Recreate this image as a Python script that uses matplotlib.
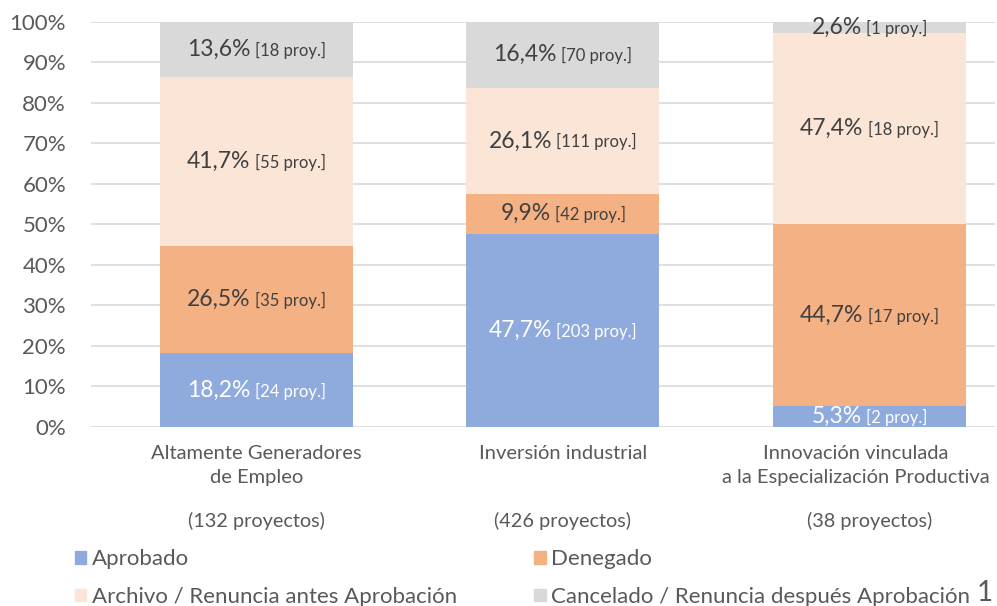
import numpy as np
import matplotlib.pyplot as plt
from matplotlib.offsetbox import TextArea, HPacker, AnnotationBbox
from matplotlib.patches import Patch

plt.rcParams['font.family'] = ['Lato', 'DejaVu Sans']

categorias = ['Altamente Generadores\nde Empleo', 'Inversión industrial',
              'Innovación vinculada\na la Especialización Productiva']
totales = ['(132 proyectos)', '(426 proyectos)', '(38 proyectos)']
series = ['Aprobado', 'Denegado', 'Archivo / Renuncia antes Aprobación',
          'Cancelado / Renuncia después Aprobación']
# porcentajes por serie (una lista por categoria)
aprobado = [18.2, 47.7, 5.3]
denegado = [26.5, 9.9, 44.7]
archivo = [41.7, 26.1, 47.4]
cancelado = [13.6, 16.4, 2.6]
# numero de proyectos
n_aprobado = [24, 203, 2]
n_denegado = [35, 42, 17]
n_archivo = [55, 111, 18]
n_cancelado = [18, 70, 1]

valores = [aprobado, denegado, archivo, cancelado]
proyectos = [n_aprobado, n_denegado, n_archivo, n_cancelado]
colores = ['#8FAADC', '#F4B183', '#FBE5D6', '#D9D9D9']
color_texto = ['white', '#404040', '#404040', '#404040']
gris = '#595959'

fig = plt.figure(figsize=(9.97, 6.06), dpi=100)
ax = fig.add_axes([0.0913, 0.2954, 0.9067, 0.6683])

x = np.arange(len(categorias))
base = np.zeros(len(categorias))
for vals, ns, col, tc in zip(valores, proyectos, colores, color_texto):
    vals = np.array(vals)
    ax.bar(x, vals, 0.63, bottom=base, color=col, zorder=2)
    for xi, v, b, n in zip(x, vals, base, ns):
        pct = TextArea(f'{v:.1f}%'.replace('.', ','),
                       textprops=dict(color=tc, fontsize=16.5))
        pr = TextArea(f'[{n} proy.]', textprops=dict(color=tc, fontsize=12))
        box = HPacker(children=[pct, pr], align='baseline', pad=0, sep=3)
        ab = AnnotationBbox(box, (xi, b + v / 2), frameon=False,
                            box_alignment=(0.5, 0.5), zorder=3)
        ax.add_artist(ab)
    base += vals

ax.set_ylim(0, 100)
ax.set_xlim(-0.54, 2.41)
ax.set_yticks(np.arange(0, 101, 10))
ax.set_yticklabels([f'{t}%' for t in range(0, 101, 10)])
ax.yaxis.grid(True, color='#D9D9D9', lw=1.2, zorder=0)
ax.set_xticks(x)
ax.set_xticklabels([])
ax.tick_params(axis='both', length=0, colors=gris)
ax.tick_params(axis='y', pad=18, labelsize=16)
for s in ax.spines.values():
    s.set_visible(False)

# etiquetas de categoria (la ultima desplazada a la izquierda para caber)
ajuste = [0, 0, -0.045]
trans = ax.get_xaxis_transform()
for xi, c, d, t in zip(x, categorias, ajuste, totales):
    ax.text(xi + d, -0.045, c, transform=trans, ha='center', va='top',
            color=gris, fontsize=14.5, linespacing=1.48)
    ax.text(xi, -0.232, t, transform=trans, ha='center', va='center',
            color=gris, fontsize=14.3)

# orden de columnas: matplotlib llena por columnas
orden = [0, 2, 1, 3]
handles = [Patch(color=colores[i]) for i in orden]
etiquetas = [series[i] for i in orden]
fig.legend(handles, etiquetas, loc='center left', bbox_to_anchor=(0.064, 0.046),
           ncol=2, frameon=False, fontsize=16, labelcolor=gris,
           handlelength=0.5, handleheight=0.5, handletextpad=0.25,
           columnspacing=3.5, labelspacing=0.8, borderpad=0)

fig.text(0.996, 0.0, '1', fontsize=20, color=gris, ha='right', va='bottom')

fig.savefig('out.png', dpi=100)
